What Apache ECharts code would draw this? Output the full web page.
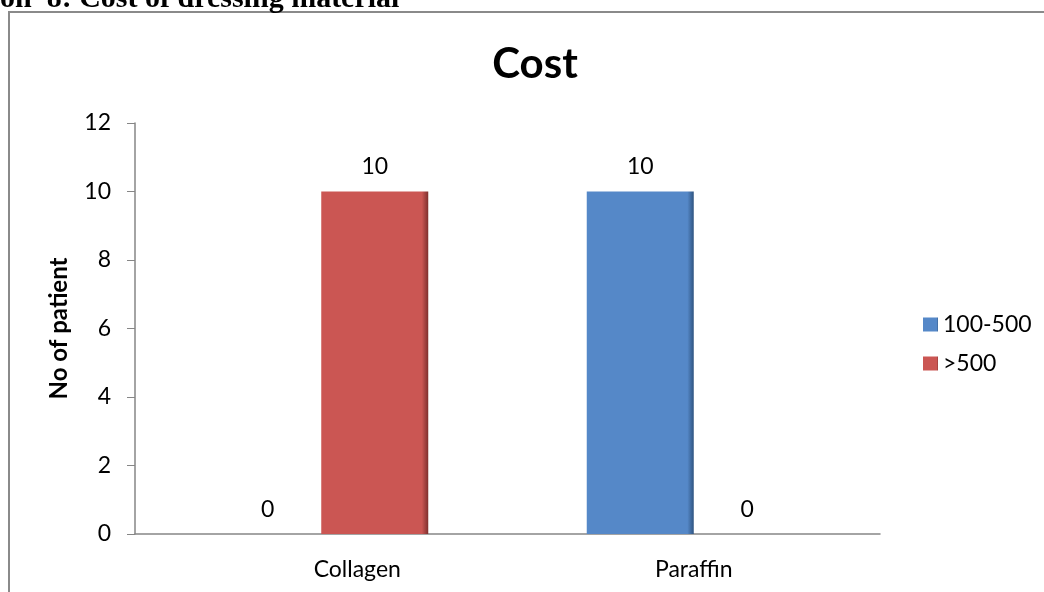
<!DOCTYPE html>
<html>
<head>
<meta charset="utf-8">
<title>Cost</title>
<script src="https://cdn.jsdelivr.net/npm/echarts@6/dist/echarts.min.js"></script>
<style>
    html, body { margin: 0; padding: 0; background: #ffffff; }
    #main { width: 1044px; height: 592px; }
</style>
</head>
<body>
<div id="main"></div>
<script>
// data
var categories = ['Collagen', 'Paraffin'];
var seriesNames = ['100-500', '>500'];
var low = [0, 10];   // 100-500
var high = [10, 0];  // >500
var yTicks = [0, 2, 4, 6, 8, 10, 12];

var font = 'Lato, "Open Sans", sans-serif';

// flat fill with a darker right edge, a bit like the excel bevel
function barColor(main, edge) {
    return new echarts.graphic.LinearGradient(0, 0, 1, 0, [
        { offset: 0, color: main },
        { offset: 0.94, color: main },
        { offset: 1, color: edge }
    ]);
}

window.onload = function() {
    var myChart = echarts.init(document.getElementById('main'));

    var label = {
        show: true,
        position: 'top',
        distance: 13,
        fontFamily: font,
        fontSize: 23,
        color: '#000000'
    };

    var option = {
        backgroundColor: '#FFFFFF',
        animation: false,
        title: {
            text: 'Cost',
            left: 530,
            textAlign: 'center',
            top: 38,
            textStyle: {
                fontFamily: font,
                fontWeight: 'bold',
                fontSize: 42,
                color: '#000000'
            }
        },
        graphic: [{
            type: 'rect',
            shape: { x: 9, y: 12, width: 1100, height: 700 },
            style: { fill: 'none', stroke: '#8a8a8a', lineWidth: 2 },
            silent: true
        }, {
            type: 'text',
            x: 0,
            y: 14,
            style: {
                text: 'on  8: Cost of dressing material',
                font: 'bold 30px "Liberation Serif", "DejaVu Serif", serif',
                verticalAlign: 'bottom',
                fill: '#000000'
            },
            silent: true
        }],
        legend: {
            orient: 'vertical',
            left: 918,
            top: 308,
            itemWidth: 15,
            itemHeight: 14,
            itemGap: 16,
            icon: 'rect',
            data: seriesNames,
            textStyle: {
                fontFamily: font,
                fontSize: 23,
                color: '#000000'
            }
        },
        grid: {
            left: 135,
            right: 164,
            top: 123,
            bottom: 58
        },
        xAxis: {
            type: 'category',
            data: categories,
            axisLine: { lineStyle: { color: '#868686', width: 1.5 } },
            axisTick: { show: false },
            axisLabel: {
                margin: 24,
                fontFamily: font,
                fontSize: 23,
                color: '#000000',
                // the first label sits a little to the right in the original
                formatter: function(value, index) {
                    return index == 0 ? '{s|' + value + '}' : value;
                },
                rich: {
                    s: {
                        fontFamily: font,
                        fontSize: 23,
                        color: '#000000',
                        padding: [0, 0, 0, 72]
                    }
                }
            }
        },
        yAxis: {
            type: 'value',
            min: yTicks[0],
            max: yTicks[yTicks.length - 1],
            interval: 2,
            name: 'No of patient',
            nameLocation: 'middle',
            nameGap: 64,
            nameTextStyle: {
                fontFamily: font,
                fontWeight: 'bold',
                fontSize: 24,
                color: '#000000'
            },
            axisLine: { show: true, lineStyle: { color: '#868686', width: 1.5 } },
            axisTick: { show: true, length: 8, lineStyle: { color: '#868686' } },
            splitLine: { show: false },
            axisLabel: {
                margin: 24,
                fontFamily: font,
                fontSize: 23,
                color: '#000000'
            }
        },
        series: [{
            name: seriesNames[0],
            type: 'bar',
            data: low,
            barWidth: 107,
            barGap: '0%',
            itemStyle: { color: barColor('#5588C8', '#2f5480') },
            label: label
        }, {
            name: seriesNames[1],
            type: 'bar',
            data: high,
            barWidth: 107,
            barGap: '0%',
            itemStyle: { color: barColor('#CB5653', '#7e2f2d') },
            label: label
        }]
    };

    myChart.setOption(option);
}
</script>
</body>
</html>
